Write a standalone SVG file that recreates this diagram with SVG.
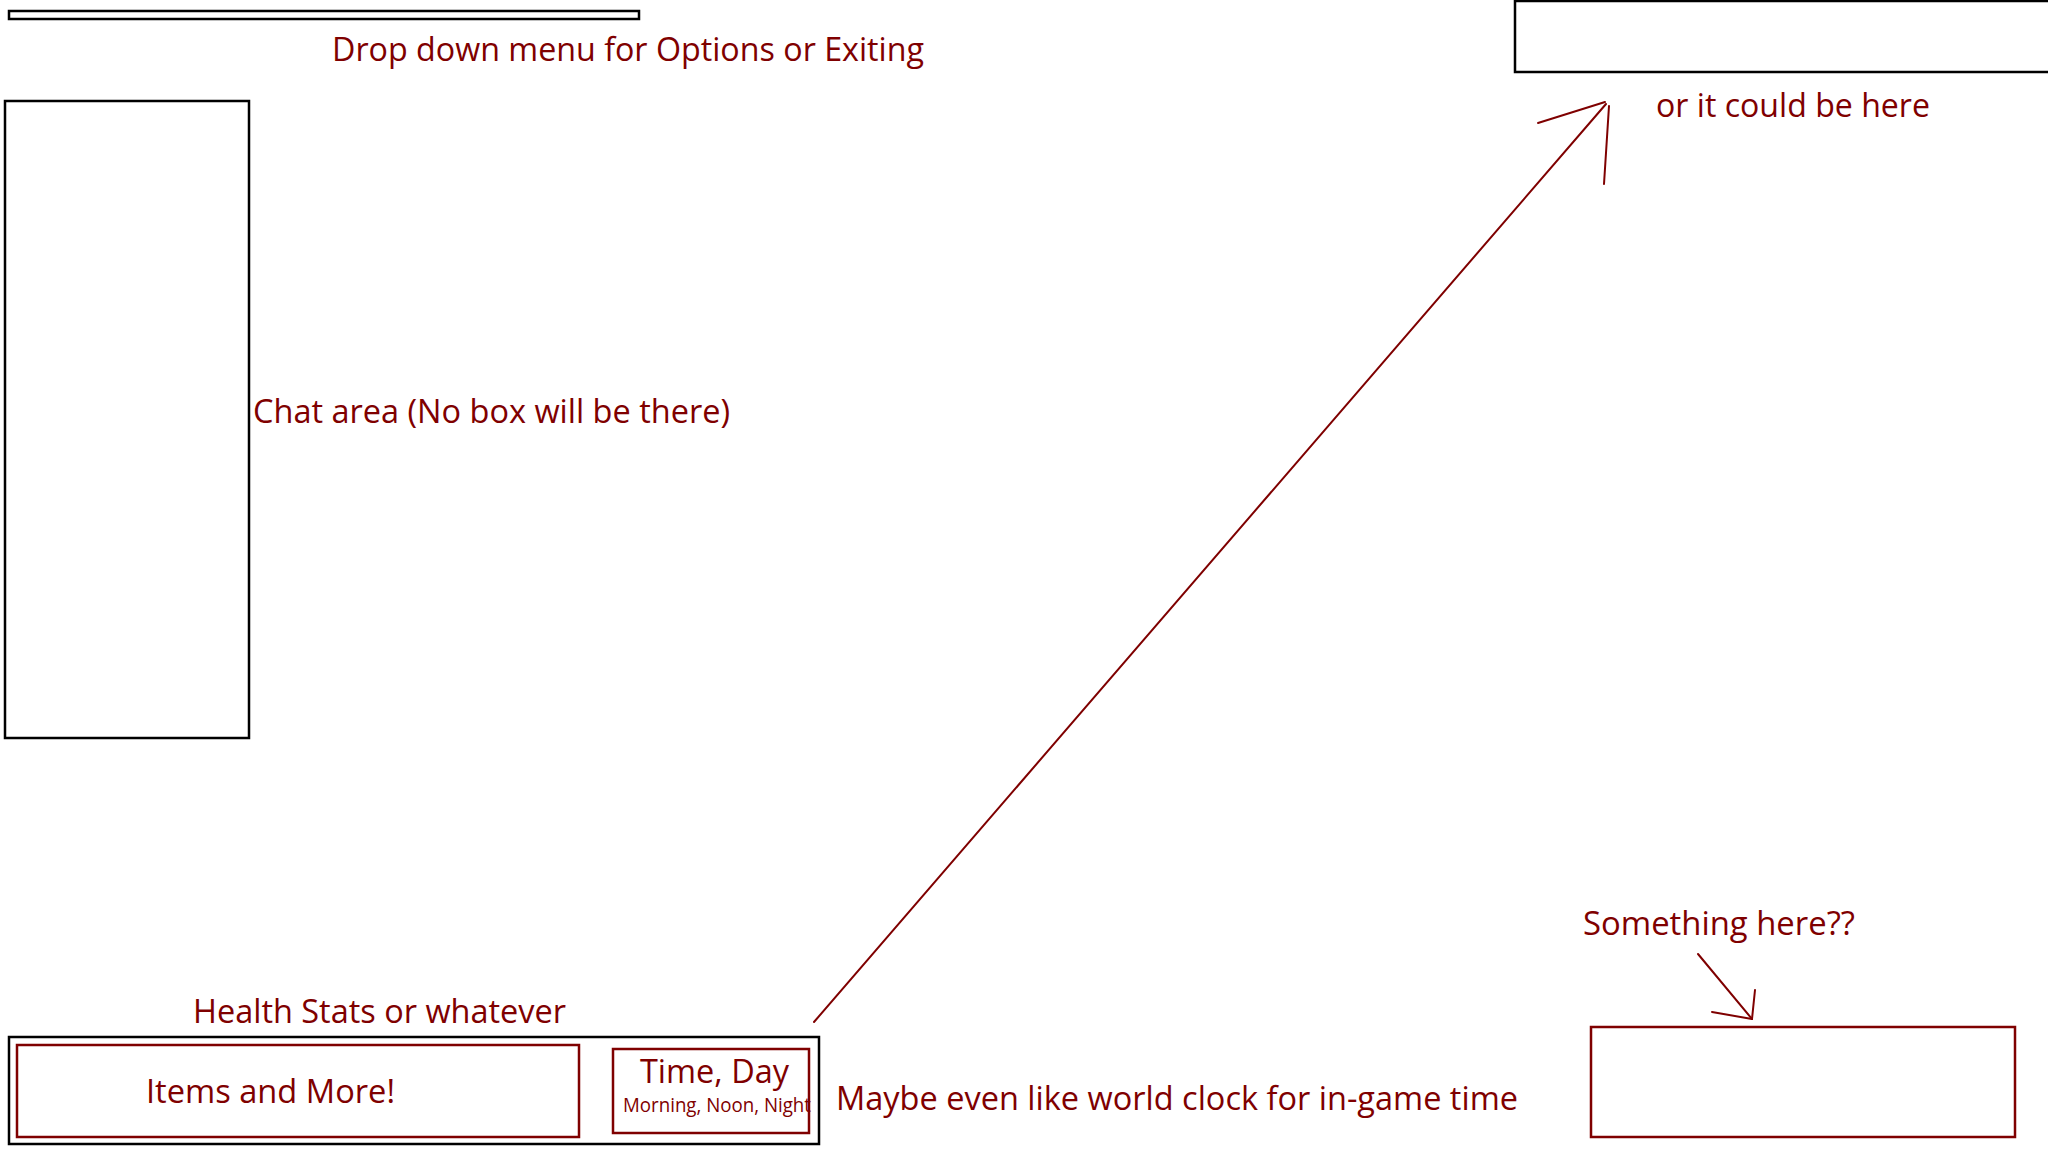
<svg xmlns="http://www.w3.org/2000/svg" width="2048" height="1152" viewBox="0 0 2048 1152">
<style>
.bk{fill:none;stroke:#000;stroke-width:2.5}
.rd{fill:none;stroke:#7f0000;stroke-width:2.5}
.ln{fill:none;stroke:#7f0000;stroke-width:2;stroke-linecap:round}
.t{font-family:"Open Sans","Noto Sans","Liberation Sans",sans-serif;font-size:32px;fill:#7f0000}
.s{font-size:20px}
</style>
<rect width="2048" height="1152" fill="#fff"/>
<g id="menu-bar">
<rect class="bk" x="9" y="11" width="630" height="8"/>
<text class="t" x="332" y="61" textLength="592" lengthAdjust="spacingAndGlyphs">Drop down menu for Options or Exiting</text>
</g>
<g id="chat-area">
<rect class="bk" x="5" y="101" width="244" height="637"/>
<text class="t" x="253" y="423" textLength="477" lengthAdjust="spacingAndGlyphs">Chat area (No box will be there)</text>
</g>
<g id="top-right-box">
<rect class="bk" x="1515" y="1" width="600" height="71"/>
<text class="t" x="1656" y="117" textLength="274" lengthAdjust="spacingAndGlyphs">or it could be here</text>
</g>
<g id="health-bar">
<text class="t" x="193" y="1023" textLength="373" lengthAdjust="spacingAndGlyphs">Health Stats or whatever</text>
<rect class="bk" x="9" y="1037" width="810" height="107"/>
</g>
<g id="items">
<rect class="rd" x="17" y="1045" width="562" height="92"/>
<text class="t" x="146" y="1103" textLength="249" lengthAdjust="spacingAndGlyphs">Items and More!</text>
</g>
<g id="time-day">
<rect class="rd" x="613" y="1049" width="196" height="84"/>
<text class="t" x="640" y="1083" textLength="149" lengthAdjust="spacingAndGlyphs">Time, Day</text>
<text class="t s" x="623" y="1112" textLength="188" lengthAdjust="spacingAndGlyphs">Morning, Noon, Night</text>
</g>
<g id="world-clock-note">
<text class="t" x="836" y="1110" textLength="682" lengthAdjust="spacingAndGlyphs">Maybe even like world clock for in-game time</text>
</g>
<g id="bottom-right-box">
<text class="t" x="1583" y="935" textLength="272" lengthAdjust="spacingAndGlyphs">Something here??</text>
<rect class="rd" x="1591" y="1027" width="424" height="110"/>
</g>
<g id="connectors">
<line class="ln" x1="814" y1="1022" x2="1606" y2="104"/>
<line class="ln" x1="1538" y1="123" x2="1605" y2="102"/>
<line class="ln" x1="1609" y1="106" x2="1604" y2="184"/>
<line class="ln" x1="1698" y1="954" x2="1752" y2="1019"/>
<line class="ln" x1="1712" y1="1012" x2="1752" y2="1019"/>
<line class="ln" x1="1755" y1="990" x2="1752" y2="1019"/>
</g>
</svg>
